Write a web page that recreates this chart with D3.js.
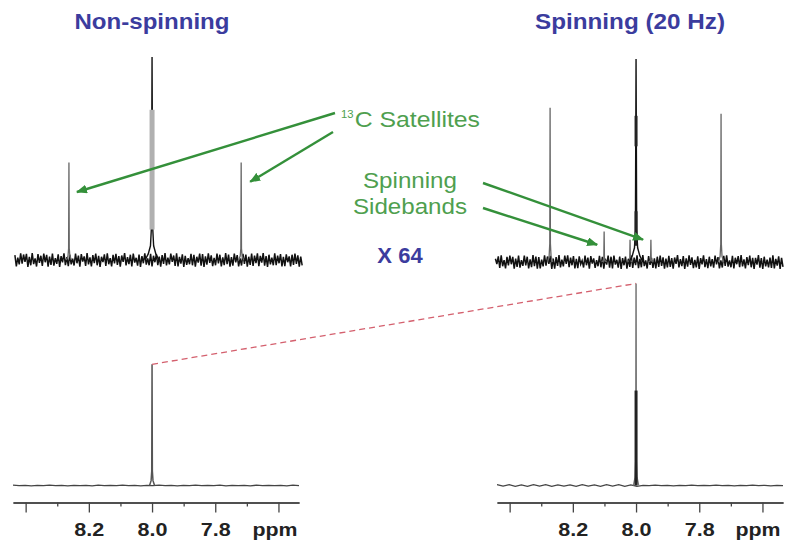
<!DOCTYPE html>
<html>
<head>
<meta charset="utf-8">
<script src="https://cdn.jsdelivr.net/npm/d3@7"></script>
<style>
  html, body { margin: 0; padding: 0; background: #fff; }
  svg { display: block; }
  text { font-family: "Liberation Sans", Arial, Helvetica, sans-serif; }
</style>
</head>
<body>
<svg id="chart" width="799" height="549"></svg>
<script>
// ---------- data ----------
const panelTitles = ["Non-spinning", "Spinning (20 Hz)"];
const scaleLabel = "X 64";

const ppmDomain = [8.44, 7.535];
const majorTicks = [8.4, 8.2, 8.0, 7.8, 7.6];
const majorTickLabels = ["", "8.2", "8.0", "7.8", "ppm"];
const minorTicks = [8.3, 8.1, 7.9, 7.7];

// expanded (x64) spectra: peak position (ppm) and height (display units, central line clipped at 100)
const topPeaksNonSpin = [
  { ppm: 8.263, h: 48 },
  { ppm: 8.000, h: 100, wide: true },
  { ppm: 7.718, h: 48 }
];
const topPeaksSpin = [
  { ppm: 8.272, h: 76 },
  { ppm: 8.101, h: 15 },
  { ppm: 8.019, h: 11 },
  { ppm: 8.000, h: 100, wide: true },
  { ppm: 7.953, h: 11 },
  { ppm: 7.731, h: 73 }
];
// broadened stretches of the clipped main line [low, high]
const topBandsNonSpin = [[15, 74]];
const topBandsSpin = [[57, 72], [8, 25]];

// full-scale spectra
const bottomPeaksNonSpin = [{ ppm: 8.0, h: 60 }];
const bottomPeaksSpin = [{ ppm: 8.0, h: 100 }];
const bottomBandsSpin = [[0, 47]];

// line-shape profiles: [ppm offset, fraction of height]
const footWide = [[-0.022, 0], [-0.012, 0.03], [-0.005, 0.07], [-0.002, 0.16], [0, 1],
                  [0.002, 0.16], [0.005, 0.07], [0.012, 0.03], [0.022, 0]];
const footNarrow = [[-0.008, 0], [-0.003, 0.04], [-0.001, 0.12], [0, 1],
                    [0.001, 0.12], [0.003, 0.04], [0.008, 0]];

// baseline noise (intensity units)
const noiseTopNonSpin = [
  2.4,-3.1,1.2,-2.2,3.3,-1.8,2.7,-0.9,3.0,-3.4,
  1.5,-2.6,3.4,-2.0,0.8,-3.2,2.9,-1.4,2.1,-2.9,
  3.2,-1.1,2.5,-3.3,1.7,-2.4,3.1,-2.8,0.9,-1.9,
  2.8,-3.4,1.9,-1.2,3.3,-2.5,1.4,-3.0,2.6,-2.1,
  0.7,-2.7,3.1,-1.6,2.2,-3.3,2.9,-0.8,1.8,-2.9,
  3.4,-2.2,1.3,-3.1,2.4,-1.5,3.2,-2.6,2.0,-3.4,
  1.6,-1.0,2.8,-2.9,3.3,-2.1,0.9,-3.2,2.5,-1.7,
  3.0,-2.4,1.9,-3.3,2.2,-0.9,3.4,-2.7,1.4,-2.0,
  2.6,-3.1,3.2,-1.3,1.1,-2.8,2.7,-3.4,1.9,-1.6,
  3.3,-2.3,0.8,-2.6,3.0,-3.2,2.1,-1.1,2.9,-2.5,
  1.7,-3.3,2.4,-1.9,3.4,-2.7,1.2,-2.2,3.1,-0.9,
  2.2,-2.9,3.3,-3.1,1.5,-1.8,2.8,-3.4,2.0,-2.4,
  0.9,-2.1,3.0,-2.6,2.5,-3.3,1.6,-1.3,3.2,-2.8,
  2.9,-3.4,1.8,-2.3,3.3,-1.4,2.3,-3.0,1.0,-2.6,
  3.1,-1.7,2.6,-3.2,1.3,-2.5,3.4,-2.0,2.7,-3.3,
  1.4,-2.8,3.2,-1.2,2.4,-3.1,0.8,-2.7,3.0,-1.9,
  2.7,-3.3,1.6,-2.4,3.1,-2.9,2.2,-1.5,3.3,-3.0,
  2.0,-1.3,3.4,-2.8,1.9,-3.4,2.6,-2.2,1.2,-2.6,
  3.3,-2.5,2.1,-1.6,2.9,-3.2,1.5,-3.0,2.8,-1.1,
  1.8,-3.1,2.6,-2.4,3.2,-1.9,2.3,-3.3,1.7,-2.7
];
const noiseTopSpin = [
  1.6,-1.0,2.8,-2.9,3.3,-2.1,0.9,-3.2,2.5,-1.7,
  3.2,-1.1,2.5,-3.3,1.7,-2.4,3.1,-2.8,0.9,-1.9,
  3.1,-1.7,2.6,-3.2,1.3,-2.5,3.4,-2.0,2.7,-3.3,
  2.4,-3.1,1.2,-2.2,3.3,-1.8,2.7,-0.9,3.0,-3.4,
  1.7,-3.3,2.4,-1.9,3.4,-2.7,1.2,-2.2,3.1,-0.9,
  3.3,-2.5,2.1,-1.6,2.9,-3.2,1.5,-3.0,2.8,-1.1,
  0.7,-2.7,3.1,-1.6,2.2,-3.3,2.9,-0.8,1.8,-2.9,
  0.9,-2.1,3.0,-2.6,2.5,-3.3,1.6,-1.3,3.2,-2.8,
  2.6,-3.1,3.2,-1.3,1.1,-2.8,2.7,-3.4,1.9,-1.6,
  2.7,-3.3,1.6,-2.4,3.1,-2.9,2.2,-1.5,3.3,-3.0,
  1.5,-2.6,3.4,-2.0,0.8,-3.2,2.9,-1.4,2.1,-2.9,
  1.8,-3.1,2.6,-2.4,3.2,-1.9,2.3,-3.3,1.7,-2.7,
  3.0,-2.4,1.9,-3.3,2.2,-0.9,3.4,-2.7,1.4,-2.0,
  2.9,-3.4,1.8,-2.3,3.3,-1.4,2.3,-3.0,1.0,-2.6,
  2.8,-3.4,1.9,-1.2,3.3,-2.5,1.4,-3.0,2.6,-2.1,
  1.4,-2.8,3.2,-1.2,2.4,-3.1,0.8,-2.7,3.0,-1.9,
  3.3,-2.3,0.8,-2.6,3.0,-3.2,2.1,-1.1,2.9,-2.5,
  3.4,-2.2,1.3,-3.1,2.4,-1.5,3.2,-2.6,2.0,-3.4,
  2.0,-1.3,3.4,-2.8,1.9,-3.4,2.6,-2.2,1.2,-2.6,
  2.2,-2.9,3.3,-3.1,1.5,-1.8,2.8,-3.4,2.0,-2.4
];
const noiseBottomNonSpin = [
  0.15,-0.1,0.1,-0.15,0.05,-0.1,0.15,-0.05,0.1,-0.15,0.1,-0.1,0.05,-0.15,0.15,-0.1,
  0.1,-0.05,0.15,-0.1,0.05,-0.15,0.1,-0.1,0.15,-0.05,0.1,-0.15,0.05,-0.1,0.15,-0.1,
  0.1,-0.05,0.15,-0.15,0.05,-0.1,0.1,-0.15,0.15,-0.05,0.1,-0.1,0.05,-0.15,0.15,-0.1
];
const noiseBottomSpin = [
  0.4,-0.3,0.4,-0.4,0.3,-0.4,0.4,-0.3,0.4,-0.4,0.3,-0.3,0.3,-0.4,0.4,-0.3,
  0.3,-0.4,0.4,-0.3,0.4,-0.4,0.3,-0.4,0.1,-0.1,0.15,-0.05,0.1,-0.15,0.05,-0.1,
  0.15,-0.1,0.1,-0.05,0.15,-0.1,0.05,-0.15,0.1,-0.1,0.15,-0.05,0.1,-0.15,0.05,-0.1
];

// ---------- layout ----------
const svg = d3.select("#chart");
const BLUE = "#3b3c9e", GREEN_TEXT = "#4f9f4f", GREEN_LINE = "#34903a", RED = "#d4606e";

const columns = [
  { range: [13, 299], topBase: 260, titleX: 152, title: panelTitles[0],
    top: topPeaksNonSpin, topBands: topBandsNonSpin, topNoise: noiseTopNonSpin,
    bottom: bottomPeaksNonSpin, bottomBands: [], bottomNoise: noiseBottomNonSpin,
    titleWidth: 155, ppmDx: -4 },
  { range: [497, 783], topBase: 262, titleX: 630, title: panelTitles[1],
    top: topPeaksSpin, topBands: topBandsSpin, topNoise: noiseTopSpin,
    bottom: bottomPeaksSpin, bottomBands: bottomBandsSpin, bottomNoise: noiseBottomSpin,
    titleWidth: 190, ppmDx: -5 }
];

const bottomBase = 485.5, axisY = 502.5;
const yBottom = d3.scaleLinear().domain([0, 100]).range([bottomBase, bottomBase - 202]);

const line = d3.line();

columns.forEach(col => {
  col.x = d3.scaleLinear().domain(ppmDomain).range(col.range);
  col.yTop = d3.scaleLinear().domain([0, 100]).range([col.topBase, col.topBase - 203]);
});

function drawSpectrum(g, x, y, peaks, bands, noise, noiseRange, opts) {
  // baseline noise on an even ppm grid
  const grid = d3.scaleLinear().domain([0, noise.length - 1]).range(noiseRange);
  g.append("path")
    .attr("d", line(noise.map((v, i) => [x(grid(i)), y(v)])))
    .attr("fill", "none")
    .attr("stroke", opts.noiseColor)
    .attr("stroke-width", opts.noiseWidth)
    .attr("stroke-linejoin", "miter");

  // peaks
  peaks.forEach(p => {
    const shape = p.wide ? footWide : footNarrow;
    g.append("path")
      .attr("d", line(shape.map(([d, f]) => [x(p.ppm + d), y(f * p.h)])))
      .attr("fill", "none")
      .attr("stroke", p.wide ? opts.mainColor : opts.peakColor)
      .attr("stroke-width", p.wide ? opts.mainWidth : opts.peakWidth);
  });

  // broadened stretches of the main line
  bands.forEach(([lo, hi]) => {
    g.append("line")
      .attr("x1", x(8.0)).attr("x2", x(8.0))
      .attr("y1", y(lo)).attr("y2", y(hi))
      .attr("stroke", opts.bandColor)
      .attr("stroke-width", opts.bandWidth);
  });
}

columns.forEach((col, ci) => {
  const g = svg.append("g");

  // panel title
  g.append("text")
    .attr("x", col.titleX).attr("y", 29)
    .attr("text-anchor", "middle")
    .attr("font-size", 22).attr("font-weight", "bold")
    .attr("fill", BLUE)
    .attr("textLength", col.titleWidth).attr("lengthAdjust", "spacingAndGlyphs")
    .text(col.title);

  // expanded spectrum
  drawSpectrum(g, col.x, col.yTop, col.top, col.topBands, col.topNoise,
    ci === 0 ? [8.434, 7.525] : [8.445, 7.535],
    { noiseColor: "#111", noiseWidth: 1.5, bandColor: ci === 0 ? "#b0b0b0" : "#222",
      bandWidth: ci === 0 ? 5 : 3, mainColor: "#111", mainWidth: 1.4,
      peakColor: "#666", peakWidth: 1.3 });

  // full-scale spectrum
  drawSpectrum(g, col.x, yBottom, col.bottom, col.bottomBands, col.bottomNoise, ppmDomain,
    { noiseColor: "#444", noiseWidth: 1.3, bandColor: "#222", bandWidth: 3,
      mainColor: "#555", mainWidth: 1.5, peakColor: ci === 0 ? "#555" : "#777", peakWidth: 1.5 });

  // ppm axis: minor then major ticks
  const axisG = g.append("g").attr("transform", `translate(0,${axisY})`);
  axisG.append("g")
    .call(d3.axisBottom(col.x).tickValues(minorTicks).tickSize(4).tickSizeOuter(0).tickFormat(""));
  const major = axisG.append("g")
    .call(d3.axisBottom(col.x).tickValues(majorTicks).tickSize(10).tickSizeOuter(0).tickPadding(10)
      .tickFormat((d, i) => majorTickLabels[i]));
  axisG.selectAll(".domain, .tick line").attr("stroke", "#444").attr("stroke-width", 1.3);
  major.selectAll(".tick text")
    .attr("font-family", "'Liberation Sans', Arial, sans-serif")
    .attr("font-size", 18.5).attr("font-weight", "bold").attr("fill", "#222")
    .attr("dx", (d, i) => (majorTickLabels[i] === "ppm" ? col.ppmDx : 0))
    .each(function (d, i) {
      const t = majorTickLabels[i];
      if (t) d3.select(this).attr("textLength", t === "ppm" ? 45 : 30)
                             .attr("lengthAdjust", "spacingAndGlyphs");
    });
});

// ---------- annotations ----------
const [L, R] = columns;

// link between the two full-scale main lines
svg.append("line")
  .attr("x1", L.x(8.0)).attr("y1", yBottom(bottomPeaksNonSpin[0].h))
  .attr("x2", R.x(8.0)).attr("y2", yBottom(bottomPeaksSpin[0].h))
  .attr("stroke", RED).attr("stroke-width", 1.3).attr("stroke-dasharray", "6,4");

svg.append("defs").append("marker")
  .attr("id", "arrow").attr("markerUnits", "userSpaceOnUse")
  .attr("markerWidth", 11).attr("markerHeight", 9)
  .attr("refX", 10).attr("refY", 4.5).attr("orient", "auto")
  .append("path").attr("d", "M0,0L11,4.5L0,9Z").attr("fill", GREEN_LINE);

const arrows = [
  { from: [335, 113], to: [L.x(topPeaksNonSpin[0].ppm) + 8, L.yTop(33.5)] },
  { from: [333, 132], to: [L.x(topPeaksNonSpin[2].ppm) + 9, L.yTop(38.5)] },
  { from: [483, 183], to: [R.x(8.0) + 7, R.yTop(11)] },
  { from: [483, 208], to: [R.x(topPeaksSpin[1].ppm) - 7, R.yTop(8.5)] }
];
arrows.forEach(a => {
  svg.append("line")
    .attr("x1", a.from[0]).attr("y1", a.from[1])
    .attr("x2", a.to[0]).attr("y2", a.to[1])
    .attr("stroke", GREEN_LINE).attr("stroke-width", 2.4)
    .attr("marker-end", "url(#arrow)");
});

// 13C satellites label (superscript mass number)
const sat = svg.append("text").attr("x", 341).attr("y", 127).attr("fill", GREEN_TEXT);
sat.append("tspan").attr("font-size", 10).attr("dy", -9).text("13");
sat.append("tspan").attr("font-size", 22).attr("dy", 9).attr("dx", 1).text("C Satellites");
sat.attr("textLength", 139).attr("lengthAdjust", "spacingAndGlyphs");

// spinning sidebands label
svg.append("text").attr("x", 410).attr("y", 188).attr("text-anchor", "middle")
  .attr("font-size", 22).attr("fill", GREEN_TEXT)
  .attr("textLength", 94).attr("lengthAdjust", "spacingAndGlyphs").text("Spinning");
svg.append("text").attr("x", 410).attr("y", 214).attr("text-anchor", "middle")
  .attr("font-size", 22).attr("fill", GREEN_TEXT)
  .attr("textLength", 114).attr("lengthAdjust", "spacingAndGlyphs").text("Sidebands");

// vertical expansion factor
svg.append("text").attr("x", 400).attr("y", 263).attr("text-anchor", "middle")
  .attr("font-size", 22).attr("font-weight", "bold").attr("fill", BLUE)
  .text(scaleLabel);
</script>
</body>
</html>
